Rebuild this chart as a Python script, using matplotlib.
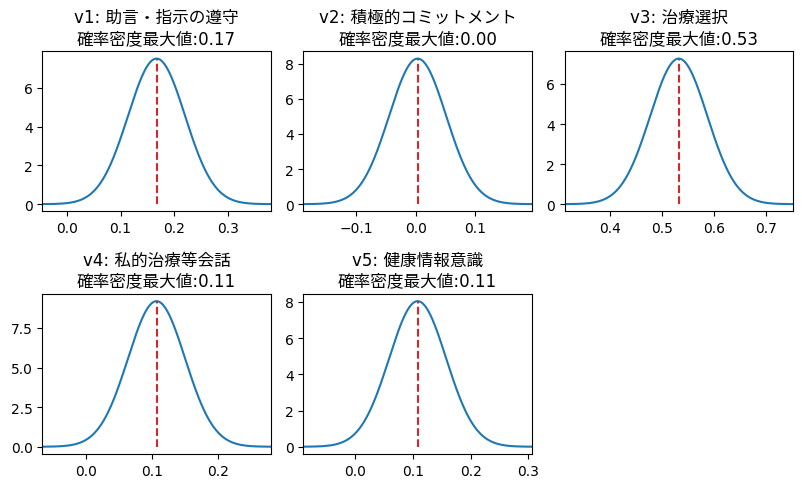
import numpy as np
import matplotlib
matplotlib.use("Agg")
import matplotlib.pyplot as plt

# latin glyphs from DejaVu, japanese falls back to Noto CJK
plt.rcParams['font.family'] = ['DejaVu Sans', 'Noto Sans CJK JP']

####### DATA #######

names = ["v1: 助言・指示の遵守", "v2: 積極的コミットメント", "v3: 治療選択",
         "v4: 私的治療等会話", "v5: 健康情報意識"]
modes = [0.167, 0.003, 0.532, 0.107, 0.108]
sds = [0.0532, 0.0481, 0.0549, 0.0434, 0.0496]


def normal_pdf(x, mu, sd):
    return np.exp(-0.5 * ((x - mu) / sd) ** 2) / (sd * np.sqrt(2 * np.pi))


fig, axes = plt.subplots(2, 3, figsize=(8.03, 4.89), dpi=100)
axes = axes.flatten()

for i, name in enumerate(names):
    ax = axes[i]
    mu = modes[i]
    sd = sds[i]
    x = np.linspace(mu - 4 * sd, mu + 4 * sd, 400)
    y = normal_pdf(x, mu, sd)
    ax.plot(x, y, color="tab:blue")
    ax.vlines(mu, 0, y.max(), colors="tab:red", linestyles="--")
    ax.set_xlim(x[0], x[-1])
    ax.set_title(f"{name}\n確率密度最大値:{mu:.2f}")

axes[5].axis("off")

plt.subplots_adjust(left=0.0527, right=0.9875, top=0.893, bottom=0.0695,
                    wspace=0.143, hspace=0.515)
plt.savefig("out.png")
